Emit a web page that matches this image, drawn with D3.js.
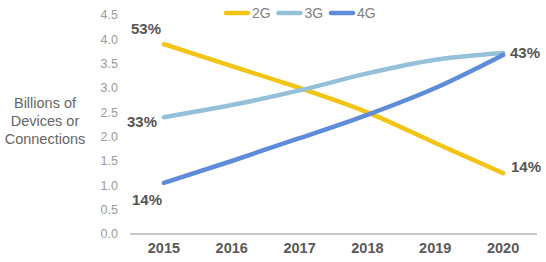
<!DOCTYPE html>
<html><head><meta charset="utf-8">
<script src="https://cdn.jsdelivr.net/npm/d3@7/dist/d3.min.js"></script>
<style>body{margin:0;background:#fff}svg{display:block}</style>
</head><body>
<svg id="c" width="546" height="262"></svg>
<script>
const years = ["2015","2016","2017","2018","2019","2020"];
const series2G = [3.9, 3.45, 3.0, 2.5, 1.87, 1.25];
const series3G = [2.4, 2.65, 2.95, 3.3, 3.58, 3.72];
const series4G = [1.05, 1.5, 1.97, 2.45, 3.0, 3.68];
const yTicks = [0,0.5,1,1.5,2,2.5,3,3.5,4,4.5];
const seriesNames = ["2G","3G","4G"];
const colors = ["#f2c414","#95c0da","#5f8cd8"];
const startLabels = ["53%","33%","14%"];
const endLabels = ["14%","43%"];

const FONT = "Arial, Liberation Sans, sans-serif";
const svg = d3.select("#c");
const x = d3.scaleBand().domain(years).range([130,537]);
const y = d3.scaleLinear().domain([0,4.5]).range([234,15]);
const cx = d => x(d) + x.bandwidth()/2;

// y tick labels
svg.append("g").selectAll("text").data(yTicks).join("text")
  .attr("x",118).attr("y",d=>y(d)).attr("dy","0.35em")
  .attr("text-anchor","end").attr("font-family",FONT)
  .attr("font-size",12.5).attr("fill","#9a9a9a").text(d=>d.toFixed(1));

// x axis line
svg.append("line").attr("x1",130).attr("x2",537).attr("y1",y(0)).attr("y2",y(0))
  .attr("stroke","#c8c8c8").attr("stroke-width",2);
svg.append("g").selectAll("text").data(years).join("text")
  .attr("x",d=>cx(d)).attr("y",253).attr("text-anchor","middle")
  .attr("font-family",FONT).attr("font-weight","bold")
  .attr("font-size",14.5).attr("fill","#595959").text(d=>d);

// y title
const tt = svg.append("text").attr("font-family",FONT)
  .attr("font-size",14.5).attr("fill","#666").attr("text-anchor","middle");
["Billions of","Devices or","Connections"].forEach((t,i)=>
  tt.append("tspan").attr("x",45).attr("y",108+i*18).text(t));

// lines
const all = [series2G, series3G, series4G];
const line = d3.line().x((d,i)=>cx(years[i])).y(d=>y(d)).curve(d3.curveMonotoneX);
all.forEach((s,k)=>{
  svg.append("path").attr("d",line(s)).attr("fill","none")
    .attr("stroke",colors[k]).attr("stroke-width",4.5).attr("stroke-linecap","round");
});

// labels
const lab = (t,xx,yy)=>svg.append("text").attr("x",xx).attr("y",yy).attr("dy","0.35em")
  .attr("font-family",FONT).attr("font-weight","bold")
  .attr("font-size",15).attr("fill","#555").text(t);
lab(startLabels[0], 131, 29);
lab(startLabels[1], 127, 122);
lab(startLabels[2], 132, 200);
lab(endLabels[1], 510, 53);
lab(endLabels[0], 511, 167);

// legend
const lg = svg.append("g");
seriesNames.forEach((n,i)=>{
  const x0 = 226 + i*52.5;
  lg.append("line").attr("x1",x0).attr("x2",x0+22).attr("y1",13).attr("y2",13)
    .attr("stroke",colors[i]).attr("stroke-width",4.5).attr("stroke-linecap","round");
  lg.append("text").attr("x",x0+26).attr("y",13).attr("dy","0.35em")
    .attr("font-family",FONT).attr("font-size",14)
    .attr("fill","#808080").text(n);
});
</script>
</body></html>
